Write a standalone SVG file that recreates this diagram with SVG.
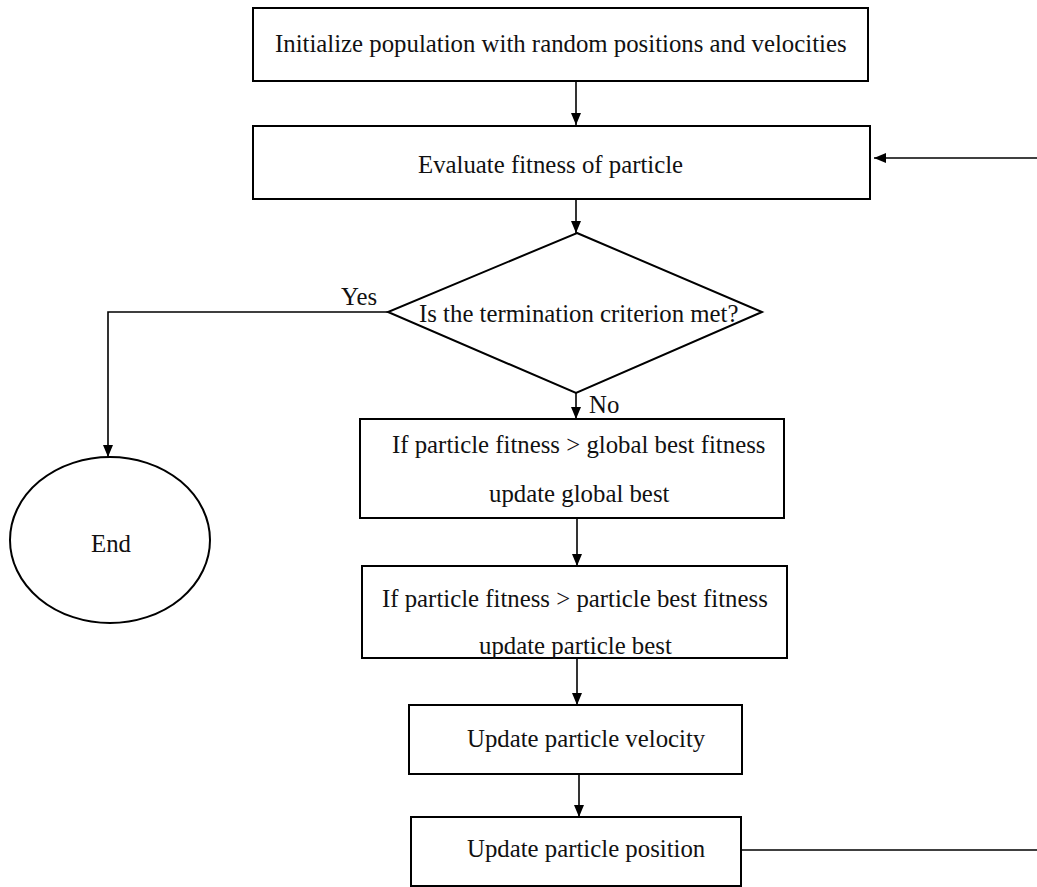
<svg xmlns="http://www.w3.org/2000/svg" width="1037" height="887" viewBox="0 0 1037 887">
<style>
.box{fill:#fff;stroke:#000;stroke-width:2}
.ln{fill:none;stroke:#000;stroke-width:1.6}
text{font-family:"Liberation Serif","Times New Roman",serif;font-size:24.8px;fill:#111}
</style>
<defs>
<marker id="ah" markerUnits="userSpaceOnUse" markerWidth="12" markerHeight="12" viewBox="0 0 12 10" refX="12" refY="5" orient="auto">
<path d="M0,0 L12,5 L0,10 Z" fill="#000"/>
</marker>
</defs>
<rect width="1037" height="887" fill="#fff"/>
<g id="connectors">
<line class="ln" x1="576" y1="81" x2="576" y2="125" marker-end="url(#ah)"/>
<line class="ln" x1="1037" y1="158" x2="874" y2="158" marker-end="url(#ah)"/>
<line class="ln" x1="576" y1="199" x2="576" y2="233" marker-end="url(#ah)"/>
<polyline class="ln" points="388,312 108,312 108,457" marker-end="url(#ah)"/>
<line class="ln" x1="576" y1="393" x2="576" y2="419" marker-end="url(#ah)"/>
<line class="ln" x1="577" y1="518" x2="577" y2="566" marker-end="url(#ah)"/>
<line class="ln" x1="577" y1="658" x2="577" y2="705" marker-end="url(#ah)"/>
<line class="ln" x1="579" y1="774" x2="579" y2="817" marker-end="url(#ah)"/>
<line class="ln" x1="742" y1="850" x2="1037" y2="850"/>
<text x="341" y="305">Yes</text>
<text x="589" y="413">No</text>
</g>
<g id="init">
<rect class="box" x="253" y="8" width="615" height="73"/>
<text x="275" y="52">Initialize population with random positions and velocities</text>
</g>
<g id="evaluate">
<rect class="box" x="253" y="126" width="617" height="73"/>
<text x="418" y="173">Evaluate fitness of particle</text>
</g>
<g id="decision">
<polygon class="box" points="577,233 762,312 576,393 388,312"/>
<text x="419" y="322">Is the termination criterion met?</text>
</g>
<g id="end">
<ellipse class="box" cx="110" cy="540" rx="100" ry="83"/>
<text x="91" y="552">End</text>
</g>
<g id="global-best">
<rect class="box" x="360" y="419" width="424" height="99"/>
<text x="392" y="453">If particle fitness &gt; global best fitness</text>
<text x="489" y="502">update global best</text>
</g>
<g id="particle-best">
<rect class="box" x="362" y="566" width="425" height="92"/>
<text x="382" y="607">If particle fitness &gt; particle best fitness</text>
<text x="479" y="654">update particle best</text>
</g>
<g id="velocity">
<rect class="box" x="409" y="705" width="333" height="69"/>
<text x="467" y="747">Update particle velocity</text>
</g>
<g id="position">
<rect class="box" x="411" y="817" width="330" height="69"/>
<text x="467" y="857">Update particle position</text>
</g>
</svg>
